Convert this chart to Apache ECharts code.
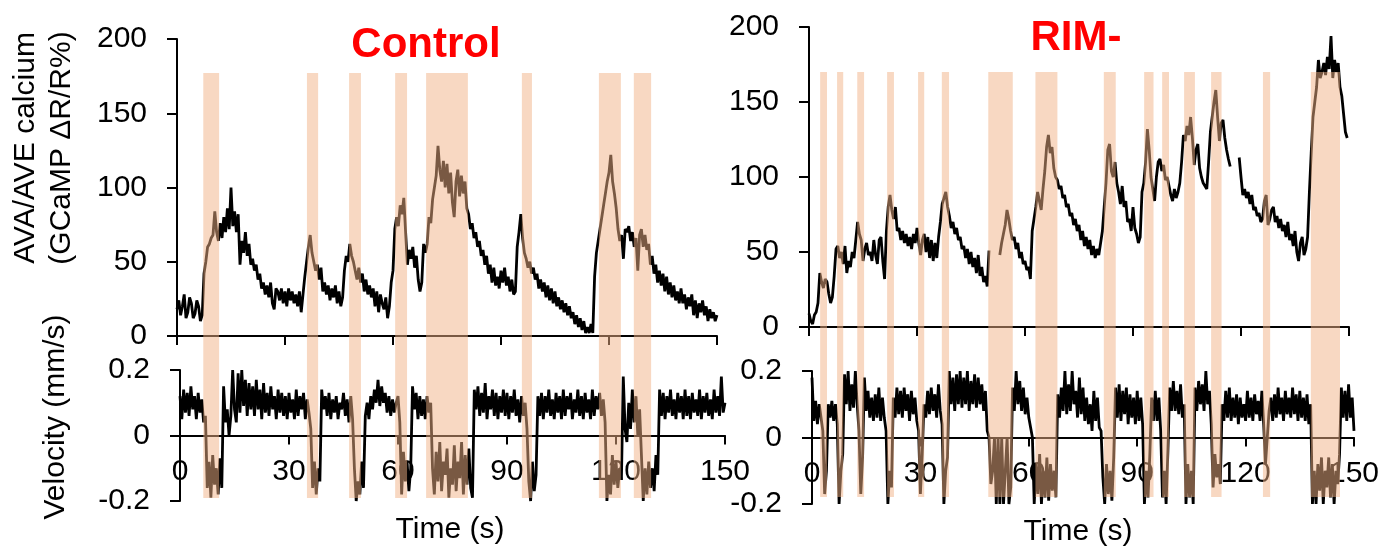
<!DOCTYPE html>
<html>
<head>
<meta charset="utf-8">
<script src="https://cdn.jsdelivr.net/npm/echarts/dist/echarts.min.js"></script>
<style>
  html, body { margin: 0; padding: 0; background: #fff; }
  #chart { width: 1386px; height: 550px; }
</style>
</head>
<body>
<div id="chart"></div>
<script>
// one sample every 0.5 s, 0..150 s
const STEP = 0.5

// reversal periods (s)
const ctrlBands = [[7.3, 11.7], [36.1, 39.2], [47.8, 51.1], [60.6, 63.9], [69.2, 80.8],
    [95.8, 98.6], [117.2, 123.3], [126.9, 131.7]]
const rimBands = [[3.1, 5.0], [7.8, 9.5], [13.4, 15.3], [21.7, 23.6], [30.3, 32.0], [36.9, 38.9],
    [49.8, 56.6], [62.9, 69.0], [81.9, 85.2], [93.1, 95.7], [98.1, 100.0], [104.2, 107.2],
    [111.7, 114.6], [126.1, 128.1], [139.4, 147.5]]

// AVA/AVE calcium, control (one row = 10 s)
const ctrlCalcium = [
    18, 24, 14, 20, 28, 12, 16, 26, 22, 12, 15, 24, 20, 10, 14, 42, 50, 60, 62, 66,
    68, 84, 70, 64, 76, 66, 80, 70, 86, 72, 100, 74, 84, 70, 82, 48, 64, 56, 70, 54,
    62, 48, 52, 44, 48, 38, 42, 32, 36, 28, 34, 26, 36, 22, 18, 32, 30, 24, 32, 22,
    30, 20, 32, 24, 30, 22, 28, 20, 30, 16, 28, 40, 50, 60, 68, 56, 50, 44, 48, 38,
    46, 30, 36, 28, 34, 24, 32, 26, 34, 22, 30, 20, 26, 44, 54, 50, 62, 54, 50, 44,
    38, 46, 36, 42, 30, 38, 28, 34, 26, 32, 20, 30, 16, 28, 22, 18, 26, 12, 20, 36,
    44, 72, 80, 74, 88, 82, 93, 70, 48, 58, 52, 60, 46, 54, 38, 30, 36, 62, 56, 62,
    80, 76, 92, 100, 108, 128, 112, 104, 118, 100, 116, 96, 110, 90, 80, 104, 112, 94, 108, 96,
    104, 86, 82, 72, 76, 66, 70, 60, 64, 54, 58, 48, 54, 42, 48, 36, 46, 34, 40, 32,
    44, 36, 46, 34, 40, 30, 38, 28, 30, 60, 70, 82, 66, 56, 52, 46, 50, 42, 46, 38,
    42, 32, 38, 30, 36, 26, 34, 24, 32, 22, 30, 20, 26, 18, 24, 16, 22, 14, 20, 12,
    16, 8, 14, 6, 12, 4, 10, 2, 6, 2, 8, 2, 40, 56, 64, 72, 80, 88, 96, 104,
    110, 122, 104, 96, 86, 72, 64, 68, 52, 72, 70, 74, 64, 70, 60, 66, 44, 68, 72, 60,
    68, 58, 62, 48, 54, 42, 48, 36, 44, 34, 42, 30, 40, 28, 36, 26, 34, 24, 30, 22,
    32, 22, 28, 18, 26, 20, 28, 14, 24, 12, 22, 16, 24, 14, 20, 10, 18, 12, 16, 10,
    14
]
// velocity, control
const ctrlVelocity = [
    .12, .05, .14, .07, .13, .06, .15, .08, .12, .05, .13, .07, .11, .04, .06, -.16, -.08, -.19, -.06, -.15,
    -.1, -.18, -.07, -.16, .15, .04, .08, 0, .06, .2, .08, .04, .19, .07, .2, .09, .17, .06, .16, .08,
    .15, .06, .17, .08, .14, .05, .16, .07, .13, .06, .15, .08, .12, .05, .14, .07, .13, .06, .12, .05,
    .13, .07, .11, .05, .14, .06, .12, .08, .13, .05, .11, .07, .02, -.16, -.08, -.18, -.1, -.14, .14, .08,
    .12, .06, .13, .05, .11, .07, .12, .05, .1, .08, .13, .06, .11, .04, .12, .05, -.1, -.2, -.14, -.18,
    -.08, -.16, .06, .1, .05, .12, .08, .14, .1, .17, .09, .15, .1, .13, .07, .12, .06, .11, .07, .1,
    .12, .04, -.18, -.05, -.14, -.08, -.17, -.1, .15, .08, .13, .05, .12, .06, .11, .05, .12, .07, .1, -.1,
    -.18, -.05, -.14, -.02, -.17, -.08, -.12, -.04, -.19, -.1, -.15, -.03, -.17, -.08, -.13, -.02, -.18, -.06, -.15, -.04,
    -.16, -.19, .14, .08, .15, .06, .13, .07, .16, .05, .12, .08, .14, .06, .13, .05, .12, .07, .14, .06,
    .13, .05, .12, .07, .14, .06, .11, .04, .12, .06, .1, .02, -.14, -.2, -.08, -.17, -.12, .12, .06, .13,
    .05, .12, .07, .14, .06, .11, .05, .13, .07, .12, .05, .14, .06, .12, .08, .13, .05, .11, .07, .14,
    .06, .12, .05, .13, .07, .11, .05, .14, .06, .12, .08, .13, .06, .11, .04, -.2, -.12, -.18, -.06, -.15,
    -.08, -.16, -.1, -.13, .18, .02, -.02, .1, .02, .14, .04, .12, 0, .08, -.06, -.2, -.1, -.18, -.08, -.16,
    -.1, -.17, -.06, -.12, .14, .06, .13, .05, .12, .07, .14, .06, .11, .05, .13, .07, .12, .05, .14, .06,
    .12, .05, .13, .07, .11, .06, .14, .05, .12, .07, .13, .06, .11, .05, .14, .07, .12, .06, .18, .07,
    .1
]
// AVA/AVE calcium, RIM- (null = no recording)
const rimCalcium = [
    9, 4, 2, 8, 10, 16, 36, 30, 26, 32, 30, 22, 16, 20, 34, 52, 54, 46, 50, 42,
    54, 36, 44, 40, 50, 46, 58, 70, 62, 58, 44, 52, 56, 48, 50, 44, 58, 48, 42, 58,
    60, 44, 32, 64, 80, 88, 78, 72, 80, 64, 66, 58, 64, 56, 62, 54, 60, 52, 62, 56,
    66, 56, 48, 58, 62, 50, 60, 46, 58, 44, 56, 46, 60, 70, 82, 86, 90, 80, 74, 66,
    70, 62, 66, 58, 60, 52, 54, 46, 52, 42, 50, 40, 46, 36, 48, 34, 40, 30, 34, 27,
    51, null, null, null, null, null, 48, 56, 62, 68, 78, 72, 64, 58, 60, 52, 56, 46, 50, 42,
    44, 38, 40, 32, 64, 72, 80, 90, 84, 78, 92, 104, 120, 128, 116, 120, 106, 100, 98, 92,
    94, 86, 88, 80, 82, 74, 76, 68, 72, 64, 68, 58, 64, 54, 60, 52, 58, 48, 54, 46,
    52, 48, 56, 64, 80, 96, 118, 122, 104, 100, 110, 96, 90, 82, 94, 80, 84, 70, 72, 64,
    80, 66, 62, 56, 60, 90, 96, 110, 132, 118, 100, 92, 84, 100, 110, 112, 104, 108, 98, 100,
    94, 88, 84, 92, 86, 90, 96, 110, 128, 124, 134, 128, 140, 126, 108, 118, 122, 106, 100, 96,
    94, 92, 110, 130, 140, 150, 158, 140, 124, 136, 138, 126, 118, 112, 107, null, null, null, null, 113,
    100, 88, 92, 86, 90, 82, 88, 78, 80, 74, 76, 70, 72, 84, 88, 68, 72, 78, 80, 70,
    74, 66, 72, 64, 68, 60, 70, 58, 62, 54, 64, 50, 44, 56, 60, 48, 52, 60, 90, 116,
    140, 150, 160, 178, 166, 170, 176, 168, 180, 172, 194, 166, 178, 170, 176, 160, 154, 142, 130, 126,
    null
]
// velocity, RIM-
const rimVelocity = [
    .18, .05, .11, .04, .1, .06, .02, -.17, -.1, .1, .06, .11, .05, .1, .04, -.2, -.1, -.05, .19, .1,
    .2, .08, .16, .09, .2, .1, .02, -.17, -.06, .18, .08, .14, .06, .12, .05, .13, .06, .15, .05, .12,
    .06, .02, -.2, -.1, -.15, .12, .06, .15, .07, .14, .06, .15, .08, .13, .05, .14, .07, .12, .05, .02,
    -.17, -.05, .1, .06, .14, .07, .15, .08, .13, .06, .16, .08, .04, -.2, -.1, -.06, .2, .1, .18, .08,
    .19, .1, .2, .09, .18, .1, .2, .08, .17, .1, .19, .09, .18, .1, .16, .08, .14, .02, 0, -.14,
    -.1, 0, -.2, 0, -.2, 0, -.2, -.1, 0, -.2, -.15, .15, .08, .2, .1, .17, .08, .15, .07, .12,
    .06, .03, 0, -.2, -.08, -.17, -.05, -.2, -.1, -.18, -.06, -.19, -.08, -.16, -.1, -.18, .13, .06, .15, .08,
    .2, .07, .16, .08, .2, .1, .14, .06, .18, .07, .15, .05, .12, .04, .1, .02, .14, .05, .12, .03,
    .02, -.12, -.2, -.08, -.17, -.1, -.19, -.06, .15, .06, .16, .05, .14, .07, .15, .04, .13, .06, .12, .04,
    .14, .05, .12, .04, -.2, -.1, -.18, -.05, .12, .05, .14, .05, .12, .02, -.18, -.1, -.2, -.04, .15, .08,
    .17, .08, .14, .07, .16, .06, .1, -.2, -.08, -.18, -.1, -.2, .15, .08, .17, .1, .16, .08, .2, .1,
    .14, .04, -.15, -.05, -.12, -.08, -.14, .1, .05, .14, .06, .15, .05, .12, .06, .13, .04, .12, .06, .1,
    .05, .14, .06, .12, .05, .13, .07, .11, .05, .14, .04, -.08, 0, .08, .12, .05, .13, .06, .15, .07,
    .12, .05, .14, .07, .12, .06, .15, .07, .13, .05, .14, .06, .12, .05, .13, .04, .1, -.2, -.1, -.2,
    -.08, -.16, -.06, -.2, -.1, -.15, -.06, -.18, -.08, -.2, -.1, -.14, -.05, .15, .06, .14, .05, .16, .06, .12,
    .02
]

const FONT = '"Liberation Sans", Arial, sans-serif'
const BAND = 'rgba(241,178,134,0.5)'
const AXIS = { lineStyle: { color: '#000', width: 2 } }

const toPairs = arr => arr.map((v, i) => [i * STEP, v])

function xAx(grid, labels, offset = 0, show = true) {
    return {
        gridIndex: grid, type: 'value', min: 0, max: 150, interval: 30, show, offset,
        axisLine: { show: true, onZero: false, ...AXIS },
        axisTick: { show: true, length: 9, lineStyle: { color: '#000', width: 2 } },
        axisLabel: { show: labels, margin: 21, fontSize: 30, color: '#000', fontFamily: FONT,
            showMinLabel: true, showMaxLabel: true },
        splitLine: { show: false }
    }
}
function yAx(grid, min, max, interval, show = true) {
    return {
        gridIndex: grid, type: 'value', min, max, interval, show,
        axisLine: { show: true, onZero: false, ...AXIS },
        axisTick: { show: true, length: 10, lineStyle: { color: '#000', width: 2 } },
        axisLabel: { margin: 30, fontSize: 30, color: '#000', fontFamily: FONT },
        splitLine: { show: false }
    }
}
function trace(i, data) {
    return {
        type: 'line', xAxisIndex: i, yAxisIndex: i, data: toPairs(data),
        showSymbol: false, connectNulls: false, z: 2,
        lineStyle: { color: '#000', width: 2.8 }
    }
}
function bands(i, data) {
    return {
        type: 'custom', xAxisIndex: i, yAxisIndex: i, data, z: 10, silent: true,
        encode: { x: [0, 1] },
        renderItem(params, api) {
            const a = api.coord([api.value(0), 1])
            const b = api.coord([api.value(1), 0])
            return { type: 'rect', shape: { x: a[0], y: a[1], width: b[0] - a[0], height: b[1] - a[1] },
                style: { fill: BAND } }
        }
    }
}
function txt(x, y, text, size, rot = 0, extra = {}) {
    return { type: 'text', x, y, rotation: rot, z: 20,
        style: { text, font: `${extra.bold ? 'bold ' : ''}${size}px ${FONT}`, fill: extra.color || '#000',
            align: 'center', verticalAlign: 'middle' } }
}

const myChart = echarts.init(document.getElementById('chart'))
const option = {
    animation: false,
    grid: [
        { left: 177, top: 39, width: 540, height: 297 },   // control calcium
        { left: 180, top: 370, width: 545, height: 131 },  // control velocity
        { left: 177, top: 73, width: 540, height: 425 },   // control bands
        { left: 809, top: 27, width: 540, height: 300 },   // RIM calcium
        { left: 812, top: 371, width: 542, height: 133 },  // RIM velocity
        { left: 809, top: 72, width: 540, height: 425 }    // RIM bands
    ],
    xAxis: [
        xAx(0, false), xAx(1, true, -65.5), xAx(2, false, 0, false),
        xAx(3, false), xAx(4, true, -66.5), xAx(5, false, 0, false)
    ],
    yAxis: [
        yAx(0, 0, 200, 50), yAx(1, -0.2, 0.2, 0.2), yAx(2, 0, 1, 1, false),
        yAx(3, 0, 200, 50), yAx(4, -0.2, 0.2, 0.2), yAx(5, 0, 1, 1, false)
    ],
    series: [
        trace(0, ctrlCalcium), trace(1, ctrlVelocity), bands(2, ctrlBands),
        trace(3, rimCalcium), trace(4, rimVelocity), bands(5, rimBands)
    ],
    graphic: [
        txt(426, 45, 'Control', 42, 0, { bold: true, color: '#ff0000' }),
        txt(1076, 38, 'RIM-', 42, 0, { bold: true, color: '#ff0000' }),
        txt(26, 148, 'AVA/AVE calcium', 30, Math.PI / 2),
        txt(62, 148, '(GCaMP ΔR/R%)', 30, Math.PI / 2),
        txt(56, 417, 'Velocity (mm/s)', 30, Math.PI / 2),
        txt(450, 530, 'Time (s)', 30),
        txt(1078, 532, 'Time (s)', 30)
    ]
}
myChart.setOption(option)
</script>
</body>
</html>
